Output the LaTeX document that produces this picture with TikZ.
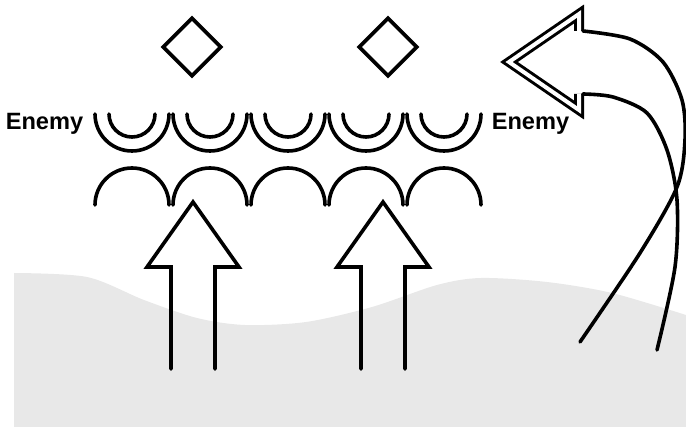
\documentclass[tikz,border=0pt]{standalone}
\usepackage{fontspec}
\setmainfont{Liberation Sans}
\usetikzlibrary{shapes.geometric}

\begin{document}
\begin{tikzpicture}[x=0.5pt, y=-0.5pt, line width=1.8pt, line cap=round,
  gem/.style={draw, diamond, inner sep=0pt, minimum width=29.5pt, minimum height=29.5pt},
  foe/.style={font=\fontsize{11.8}{14}\selectfont\bfseries, inner sep=0pt}]
\useasboundingbox (0,0) rectangle (686,427);

% Ground
\fill[gray!18] (14,427) -- plot[smooth] coordinates {(14,273) (87,277) (144,300) (197,318) (245,325)
  (306,322) (372,307) (437,285) (481,278) (547,282) (612,293) (686,315)} -- (686,427) -- cycle;

% Targets
\node[gem] (gemL) at (192,47) {};
\node[gem] (gemR) at (388,47) {};

% Enemy labels
\node[foe, anchor=base east] (foeL) at (85,130) {Enemy};
\node[foe, anchor=base west] (foeR) at (490,130) {Enemy};

% Shield rows
\foreach \cx in {132,210,288,366,444} {
  \draw (\cx-37,114) arc[start angle=180, end angle=0, radius=37];
  \draw (\cx-23,114) arc[start angle=180, end angle=0, radius=23];
  \draw (\cx-37,205) arc[start angle=180, end angle=360, radius=37];
}

% Push arrows
\foreach \ax in {193,383}
  \draw[line join=miter] (\ax-22,369) -- (\ax-22,267) -- (\ax-46,267) -- (\ax,202)
    -- (\ax+46,267) -- (\ax+22,267) -- (\ax+22,369);

% Flanking arrow
\draw[double, double distance=2pt, line width=1.5pt, line cap=butt, line join=miter]
  (579,31) -- (579,14) -- (509,62) -- (579,110) -- (579,94);
\draw plot[smooth] coordinates {(583,31) (630,39) (663,62) (682,100) (685,140) (677,187) (640,253) (580,342)};
\draw plot[smooth] coordinates {(583,94) (613,97) (647,113) (667,150) (677,200) (675,267) (657,350)};
\end{tikzpicture}
\end{document}
